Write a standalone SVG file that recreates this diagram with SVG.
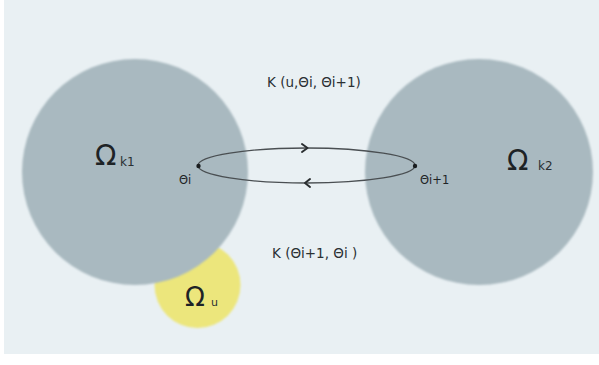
<svg xmlns="http://www.w3.org/2000/svg" width="599" height="365" viewBox="0 0 599 365">
  <defs>
    <filter id="soft" x="-10%" y="-10%" width="120%" height="120%">
      <feGaussianBlur stdDeviation="0.8"/>
    </filter>
  </defs>
  <style>
    .region { fill: #a9b9c0; }
    .user { fill: #ece67c; }
    .omega { font-family: "DejaVu Sans", Verdana, sans-serif; fill: #1e2326; }
    .sub { font-family: "DejaVu Sans", Verdana, sans-serif; fill: #2a3033; }
    .lbl { font-family: "DejaVu Sans", Verdana, sans-serif; font-size: 13.5px; fill: #2a3033; }
    .theta { font-family: "DejaVu Sans", Verdana, sans-serif; font-size: 11.5px; fill: #1e2326; }
    .loop { fill: none; stroke: #4a4f52; stroke-width: 1.3; }
    .chev { fill: none; stroke: #2a2e30; stroke-width: 2; stroke-linecap: round; stroke-linejoin: round; }
    .dot { fill: #1a1d1f; }
  </style>
  <rect x="0" y="0" width="599" height="365" fill="#ffffff"/>
  <rect x="4" y="0" width="595" height="354" fill="#e9f0f3"/>

  <g id="omega-u">
    <circle class="user" cx="197.5" cy="285" r="43" filter="url(#soft)"/>
    <text class="omega" x="185" y="306" font-size="26">Ω</text>
    <text class="sub" x="211" y="306" font-size="11">u</text>
  </g>

  <g id="omega-k1">
    <ellipse class="region" cx="135" cy="172" rx="113" ry="113" filter="url(#soft)"/>
    <text class="omega" x="95" y="165" font-size="28">Ω</text>
    <text class="sub" x="120" y="166" font-size="12">k1</text>
  </g>

  <g id="omega-k2">
    <ellipse class="region" cx="479" cy="172" rx="114" ry="113" filter="url(#soft)"/>
    <text class="omega" x="507" y="170" font-size="28">Ω</text>
    <text class="sub" x="538" y="170" font-size="12">k2</text>
  </g>

  <g id="connectors">
    <ellipse class="loop" cx="306.5" cy="165.5" rx="108.5" ry="17.5"/>
    <polyline class="chev" points="302,144 307.5,148 302,152"/>
    <polyline class="chev" points="310,179 305,183 310,187"/>
    <circle class="dot" cx="198.5" cy="166" r="2.2"/>
    <circle class="dot" cx="415" cy="166" r="2.2"/>
  </g>

  <g id="labels">
    <text class="theta" x="179" y="184">Θi</text>
    <text class="theta" x="420" y="184">Θi+1</text>
    <text class="lbl" x="267" y="87">K (u,Θi, Θi+1)</text>
    <text class="lbl" x="272" y="258">K (Θi+1, Θi )</text>
  </g>
</svg>
